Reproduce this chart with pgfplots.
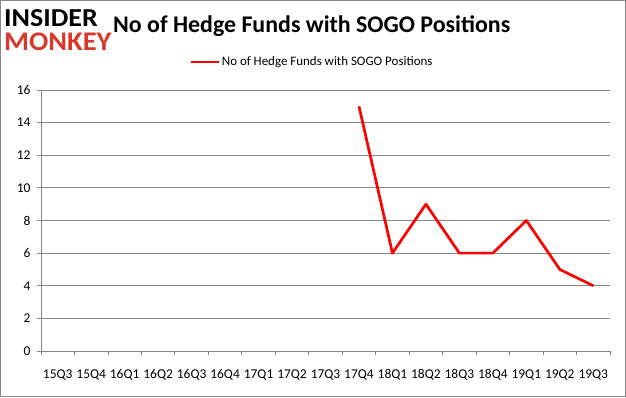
\documentclass[border=0pt]{standalone}
\usepackage{pgfplots}
\pgfplotsset{compat=1.18}
\usepackage{fontspec}
\setmainfont{Carlito}
\definecolor{gridgray}{HTML}{878787}
\definecolor{monkeyred}{HTML}{D8392B}
\begin{document}
\begin{tikzpicture}[x=1bp,y=1bp]
\useasboundingbox (0,0) rectangle (626,397);
\fill[white] (0,0) rectangle (626,397);
\draw[gridgray,line width=1bp] (0.5,0.5) rectangle (625.5,396.5);
\begin{axis}[
  at={(41bp,46bp)}, anchor=south west,
  scale only axis, width=569bp, height=261bp,
  xmin=-0.5, xmax=16.5, ymin=0, ymax=16,
  xtick={0,...,16},
  xticklabels={15Q3,15Q4,16Q1,16Q2,16Q3,16Q4,17Q1,17Q2,17Q3,17Q4,18Q1,18Q2,18Q3,18Q4,19Q1,19Q2,19Q3},
  minor xtick={-0.5,0.5,...,16.5},
  ytick={0,2,...,16},
  axis x line*=bottom, axis y line*=left,
  axis line style={gridgray, line width=0.8bp, -},
  ymajorgrids, grid style={gridgray, line width=0.8bp},
  major x tick style={draw=none},
  minor x tick style={gridgray, line width=0.8bp},
  major y tick style={gridgray, line width=0.8bp},
  tick align=outside, major tick length=4bp, minor tick length=4bp,
  tick label style={font=\fontsize{13.5}{15}\selectfont},
  /pgf/number format/assume math mode=true,
  xticklabel style={yshift=-11bp},
  yticklabel style={xshift=-3bp},
  legend style={at={(0.476,1.107)}, anchor=center, draw=none, fill=none,
    font=\fontsize{13}{15}\selectfont, inner sep=0pt},
  legend image code/.code={\draw[#1] (0bp,0bp) -- (28bp,0bp);},
  clip=false,
]
\addplot[red, line width=2.7bp, line join=round] coordinates {
 (9,15) (10,6) (11,9) (12,6) (13,6) (14,8) (15,5) (16,4)};
\addlegendentry{No of Hedge Funds with SOGO Positions}
\end{axis}
\node[anchor=west, inner sep=0pt, font=\bfseries\fontsize{24}{28}\selectfont] at (113,371) {No of Hedge Funds with SOGO Positions};
\node[anchor=west, inner sep=0pt, font=\bfseries\fontsize{26}{28}\selectfont, xscale=1.08] at (4,379) {INSIDER};
\node[anchor=west, inner sep=0pt, font=\bfseries\fontsize{27}{30}\selectfont, text=monkeyred, xscale=1.06] at (4,355) {MONKEY};
\end{tikzpicture}
\end{document}
